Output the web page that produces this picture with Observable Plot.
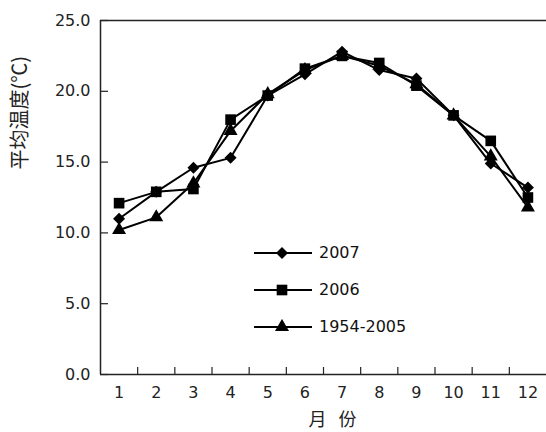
<!DOCTYPE html>
<html>
<head>
<meta charset="utf-8">
<script src="https://cdn.jsdelivr.net/npm/d3@7"></script>
<script src="https://cdn.jsdelivr.net/npm/@observablehq/plot@0.6"></script>
<style>
  html, body { margin: 0; padding: 0; background: #fff; }
  #wrap { position: relative; width: 546px; height: 432px; overflow: hidden; }
  #legend { position: absolute; left: 254px; top: 234px; font-family: "DejaVu Sans", sans-serif; font-size: 16px; color: #111; }
  #legend .row { display: flex; align-items: center; height: 37px; }
  #legend svg { display: block; }
  #legend span { margin-left: 5px; }
</style>
</head>
<body>
<div id="wrap"></div>
<script>
const months = [1,2,3,4,5,6,7,8,9,10,11,12];
const monthLabels = ["1","2","3","4","5","6","7","8","9","10","11","12"];
const seriesNames = ["2007", "2006", "1954-2005"];
const t2007 = [11.0, 12.9, 14.6, 15.3, 19.7, 21.2, 22.8, 21.5, 20.9, 18.3, 14.9, 13.2];
const t2006 = [12.1, 12.9, 13.1, 18.0, 19.7, 21.6, 22.5, 22.0, 20.4, 18.3, 16.5, 12.5];
const tAvg  = [10.2, 11.1, 13.5, 17.2, 19.8, 21.5, 22.5, 21.8, 20.5, 18.3, 15.4, 11.8];
const yTicks = [0, 5, 10, 15, 20, 25];
const yTitle = "平均温度(℃)";
const xTitle = "月 份";
const symbols = ["diamond2", "square", "triangle"];
const radii = [5.4, 6.0, 5.2];

const seriesValues = [t2007, t2006, tAvg];
const rows = seriesValues.map((vals, i) => months.map((m, j) => ({month: m, temp: vals[j], series: seriesNames[i]})));
const boundaries = months.slice(0, -1).map(m => m + 0.5);
const cjk = "'Noto Sans CJK SC', sans-serif";

const marks = [
  Plot.ruleY([25], {stroke: "#222", strokeWidth: 1.5}),
  Plot.ruleY([0], {stroke: "#222", strokeWidth: 1.5}),
  Plot.ruleX([0.5], {stroke: "#222", strokeWidth: 1.5}),
  // y tick marks (inward)
  Plot.axisY({ticks: yTicks, tickSize: -8, tickFormat: () => "", stroke: "#222", strokeWidth: 1.2, label: null}),
  // y tick labels
  Plot.axisY({ticks: yTicks, tickSize: 0, tickPadding: 10, tickFormat: d => d.toFixed(1),
              fontSize: 16, fill: "#222", label: null}),
  // x tick marks at category boundaries (inward)
  Plot.axisX({ticks: boundaries, tickSize: -7, tickFormat: () => "", stroke: "#222", strokeWidth: 1.2, label: null}),
  // x labels at category centers
  Plot.axisX({ticks: months, tickSize: 0, tickPadding: 12, tickFormat: (d, i) => monthLabels[i],
              fontSize: 16, fill: "#222", label: null}),
  // axis titles
  Plot.text([yTitle], {frameAnchor: "left", text: d => d, rotate: -90, dx: -80, dy: -28,
                       fontSize: 20, fontFamily: cjk, fill: "#222"}),
  Plot.text([xTitle], {frameAnchor: "bottom", text: d => d, dx: 11, dy: 51,
                       fontSize: 18, fontFamily: cjk, fill: "#222", className: "xtitle"})
];
rows.forEach((data, i) => {
  marks.push(Plot.line(data, {x: "month", y: "temp", stroke: "#000", strokeWidth: 2}));
});
rows.forEach((data, i) => {
  marks.push(Plot.dot(data, {x: "month", y: "temp", symbol: () => symbols[i], r: radii[i], fill: "#000", stroke: "none"}));
});

const chart = Plot.plot({
  width: 546,
  height: 432,
  marginLeft: 100,
  marginRight: 0,
  marginTop: 20,
  marginBottom: 58,
  style: {fontFamily: "DejaVu Sans, sans-serif", background: "#fff", overflow: "visible"},
  x: {type: "linear", domain: [0.5, 12.5]},
  y: {domain: [0, 25]},
  symbol: {type: "identity"},
  marks
});
document.getElementById("wrap").appendChild(chart);
chart.querySelectorAll(".xtitle text").forEach(t => { t.style.letterSpacing = "4px"; });

// legend
const legend = document.createElement("div");
legend.id = "legend";
const symPaths = {
  "diamond2": d3.symbol(d3.symbolDiamond2, Math.PI * radii[0] ** 2)(),
  "square": d3.symbol(d3.symbolSquare, Math.PI * radii[1] ** 2)(),
  "triangle": d3.symbol(d3.symbolTriangle, Math.PI * radii[2] ** 2)()
};
seriesNames.forEach((name, i) => {
  const row = document.createElement("div");
  row.className = "row";
  row.innerHTML = `<svg width="60" height="16"><line x1="0" x2="58" y1="8" y2="8" stroke="#000" stroke-width="2"/>` +
    `<path d="${symPaths[symbols[i]]}" transform="translate(28,8)" fill="#000"/></svg><span>${name}</span>`;
  legend.appendChild(row);
});
document.getElementById("wrap").appendChild(legend);
</script>
</body>
</html>
